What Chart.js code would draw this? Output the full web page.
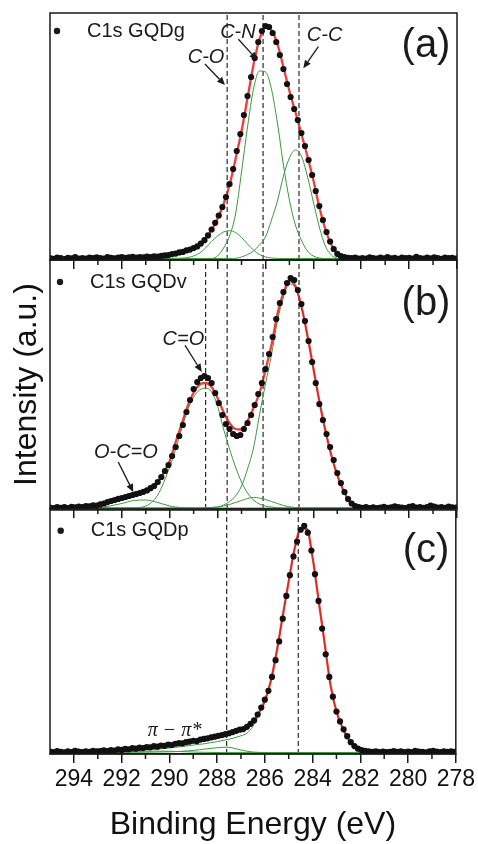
<!DOCTYPE html>
<html>
<head>
<meta charset="utf-8">
<script src="https://cdn.jsdelivr.net/npm/chart.js@4.4.0/dist/chart.umd.min.js"></script>
<style>
  html, body { margin: 0; padding: 0; background: #fff; }
  #wrap { position: relative; width: 478px; height: 844px; overflow: hidden; background: #fff; }
  #wrap canvas { position: absolute; left: 0; }
</style>
</head>
<body>
<div id="wrap">
  <canvas id="chartC" width="478" height="344" style="top:500px"></canvas>
  <canvas id="chartB" width="478" height="272" style="top:250px"></canvas>
  <canvas id="chartA" width="478" height="272" style="top:0px"></canvas>
</div>
<script>
// measured points (binding energy, eV) shared by the three spectra
const energyEv = [
  295.00, 294.85, 294.70, 294.55, 294.40, 294.25, 294.10, 293.95, 293.80, 293.65,
  293.50, 293.35, 293.20, 293.05, 292.90, 292.75, 292.60, 292.45, 292.30, 292.15,
  292.00, 291.85, 291.70, 291.55, 291.40, 291.25, 291.10, 290.95, 290.80, 290.65,
  290.50, 290.35, 290.20, 290.05, 289.90, 289.75, 289.60, 289.45, 289.30, 289.15,
  289.00, 288.85, 288.70, 288.55, 288.40, 288.25, 288.10, 287.95, 287.80, 287.65,
  287.50, 287.35, 287.20, 287.05, 286.90, 286.75, 286.60, 286.45, 286.30, 286.15,
  286.00, 285.85, 285.70, 285.55, 285.40, 285.25, 285.10, 284.95, 284.80, 284.65,
  284.50, 284.35, 284.20, 284.05, 283.90, 283.75, 283.60, 283.45, 283.30, 283.15,
  283.00, 282.85, 282.70, 282.55, 282.40, 282.25, 282.10, 281.95, 281.80, 281.65,
  281.50, 281.35, 281.20, 281.05, 280.90, 280.75, 280.60, 280.45, 280.30, 280.15,
  280.00, 279.85, 279.70, 279.55, 279.40, 279.25, 279.10, 278.95, 278.80, 278.65,
  278.50, 278.35, 278.20, 278.05
];

// C1s GQDg data (a.u.)
const gqdgCounts = [
  2.0, 1.2, 2.5, 1.8, 1.0, 2.2, 1.6, 2.8, 1.5, 2.0,
  1.3, 2.4, 1.8, 2.6, 1.9, 1.4, 2.9, 2.1, 1.7, 2.5,
  3.0, 2.2, 2.7, 3.2, 2.4, 2.9, 2.6, 3.3, 2.9, 3.6,
  3.4, 4.2, 4.6, 5.0, 5.9, 6.4, 7.6, 8.1, 9.6, 10.4,
  12.0, 13.6, 16.4, 19.8, 24.6, 30.5, 37.2, 44.5, 53, 63,
  76, 91, 109, 126, 145, 164, 183, 202, 218, 229,
  234, 233, 227, 218, 205, 191, 176, 163, 151, 140,
  127, 114, 100, 85, 69, 54, 40, 28, 18.5, 11,
  6.2, 3.8, 2.9, 2.2, 1.8, 2.4, 1.5, 2.0, 1.3, 2.6,
  1.9, 1.4, 2.3, 1.7, 2.8, 1.6, 2.1, 1.2, 2.5, 1.8,
  2.2, 1.5, 3.2, 2.0, 1.4, 2.3, 1.7, 2.6, 1.9, 1.2,
  2.4, 1.8, 2.1, 1.5
];

// C1s GQDv data (a.u.)
const gqdvCounts = [
  1.5, 0.8, 2.0, 1.2, 1.8, 0.9, 2.2, 1.6, 2.5, 2.0,
  3.0, 2.6, 3.6, 3.4, 4.6, 5.5, 6.9, 8.0, 9.0, 10.1,
  11.0, 12.0, 13.0, 14.0, 15.0, 16.0, 17.2, 18.6, 20.8, 23.0,
  27, 32, 38, 44, 53, 62, 73, 84, 97, 109,
  120, 127, 131, 133, 131, 126, 116, 106, 94, 85,
  80, 75, 73, 74, 80, 86, 94, 104, 115, 126,
  140, 155, 172, 190, 206, 217, 226, 231, 229, 219,
  205, 188, 168, 147, 126, 105, 89, 75, 62, 49,
  36, 26, 17, 10, 5.5, 2.8, 1.8, 1.2, 2.0, 1.0,
  1.7, 0.8, 1.4, 2.1, 1.1, 1.6, 2.6, 1.9, 1.3, 1.0,
  2.2, 2.8, 1.5, 1.8, 1.1, 2.0, 3.5, 2.4, 1.4, 1.9,
  1.2, 2.3, 1.7, 1.3
];

// C1s GQDp data (a.u.)
const gqdpCounts = [
  2.5, 1.8, 2.9, 2.2, 1.6, 2.7, 2.0, 3.1, 2.4, 1.9,
  2.8, 2.3, 3.3, 2.6, 3.0, 3.6, 2.9, 4.0, 3.5, 4.6,
  4.1, 5.2, 4.8, 5.9, 5.4, 6.5, 6.0, 7.1, 6.8, 7.9,
  7.4, 8.6, 8.3, 9.5, 9.1, 10.4, 11.0, 10.8, 12.0, 12.6,
  13.4, 13.1, 14.6, 15.3, 15.9, 16.8, 17.5, 18.4, 19.2, 20.1,
  21.0, 22.2, 23.5, 24.6, 25.2, 27.5, 30.5, 34, 40, 47,
  55, 64, 78, 95, 114, 137, 160, 181, 200, 215,
  227, 231, 224, 206, 182, 155, 127, 101, 78, 58,
  43, 33, 25, 18, 12, 8, 5.4, 4.0, 3.2, 2.6,
  2.2, 2.8, 2.0, 2.5, 1.8, 2.3, 2.9, 2.1, 2.6, 1.9,
  2.4, 2.0, 3.1, 2.5, 2.2, 1.7, 2.6, 3.3, 2.4, 2.0,
  2.8, 2.3, 2.6, 2.1
];

// energies for the fitted envelopes and components
const fitEnergyEv = [
  295, 294, 293, 292, 291.5, 291, 290.5, 290, 289.75, 289.5,
  289.25, 289, 288.75, 288.5, 288.25, 288, 287.75, 287.5, 287.25, 287,
  286.75, 286.5, 286.25, 286, 285.75, 285.5, 285.25, 285, 284.75, 284.5,
  284.25, 284, 283.75, 283.5, 283.25, 283, 282.75, 282.5, 282.25, 282,
  281.5, 281, 280, 279, 278
];

const gqdgFit = [
  1.5, 1.5, 1.6, 1.8, 2.2, 2.6, 3.3, 4.5, 6, 7.8,
  9.5, 11.5, 15, 21.5, 30, 41.5, 56, 75, 101, 129,
  162, 195, 221, 232.5, 230, 216, 193, 169, 148, 126,
  104, 80, 53, 31, 15.5, 6.5, 2.5, 1.6, 1.5, 1.5,
  1.5, 1.5, 1.5, 1.5, 1.5
];
const gqdgCO = [
  1.5, 1.5, 1.5, 1.5, 1.5, 1.5, 1.5, 1.6, 1.7, 1.8,
  2.5, 4, 7, 12, 18.5, 24, 28, 29.3, 27.5, 22.5,
  16, 10, 5.5, 3, 2, 1.6, 1.5, 1.5, 1.5, 1.5,
  1.5, 1.5, 1.5, 1.5, 1.5, 1.5, 1.5, 1.5, 1.5, 1.5,
  1.5, 1.5, 1.5, 1.5, 1.5
];
const gqdgCN = [
  1.5, 1.5, 1.5, 1.5, 1.5, 1.5, 1.5, 1.5, 1.5, 1.5,
  1.5, 1.5, 1.5, 1.5, 1.5, 4, 12, 24, 46, 88,
  133, 171, 189, 188, 171, 137, 95, 60, 35, 20,
  9, 4, 2, 1.5, 1.5, 1.5, 1.5, 1.5, 1.5, 1.5,
  1.5, 1.5, 1.5, 1.5, 1.5
];
const gqdgCC = [
  1.5, 1.5, 1.5, 1.5, 1.5, 1.5, 1.5, 1.5, 1.5, 1.5,
  1.5, 1.5, 1.5, 1.5, 1.5, 1.5, 1.5, 1.5, 1.7, 3,
  5.5, 9, 15, 23, 40, 59, 84, 102, 110, 104,
  84, 58, 33, 14, 5, 2, 1.5, 1.5, 1.5, 1.5,
  1.5, 1.5, 1.5, 1.5, 1.5
];

const gqdvFit = [
  1, 1.2, 3.2, 10.5, 13.5, 17, 27, 48, 67, 85,
  103, 116.5, 124.5, 126, 122, 111, 97, 86, 80, 79.5,
  88, 101, 116, 139, 164, 195, 216, 228, 223, 203,
  174, 141, 108, 79, 54, 34, 19, 8, 2.5, 1.2,
  1, 1, 1, 1, 1
];
const gqdvOCO = [
  1, 1.1, 1.5, 5.5, 8.5, 9, 6.5, 3, 2, 1.4,
  1, 1, 1, 1, 1, 1, 1, 1, 1, 1,
  1, 1, 1, 1, 1, 1, 1, 1, 1, 1,
  1, 1, 1, 1, 1, 1, 1, 1, 1, 1,
  1, 1, 1, 1, 1
];
const gqdvCO = [
  1, 1, 1, 1, 1.2, 3, 14, 42, 60, 80,
  99, 112, 119, 121, 117, 103, 80, 60, 42, 27,
  16, 9, 5, 3, 2, 1.4, 1, 1, 1, 1,
  1, 1, 1, 1, 1, 1, 1, 1, 1, 1,
  1, 1, 1, 1, 1
];
const gqdvCN = [
  1, 1, 1, 1, 1, 1, 1, 1, 1, 1,
  1, 1, 1, 1.3, 1.6, 2, 3, 4.5, 6.5, 8.5,
  10.5, 11.5, 11, 9.5, 7.5, 5.5, 3.5, 2.2, 1.5, 1,
  1, 1, 1, 1, 1, 1, 1, 1, 1, 1,
  1, 1, 1, 1, 1
];
const gqdvCC = [
  1, 1, 1, 1, 1, 1, 1, 1, 1, 1,
  1, 1, 1, 1.2, 1.5, 2, 4, 7.5, 13, 23,
  40, 61, 94, 125, 154, 188, 212, 225, 221, 202,
  173, 140, 107, 78, 53, 33, 18.5, 7.5, 2.2, 1,
  1, 1, 1, 1, 1
];

const gqdpFit = [
  1.8, 1.9, 2.1, 2.8, 4, 5.5, 6.8, 8.4, 9.5, 10.4,
  11.2, 12, 13.2, 14.4, 15.6, 16.8, 18.2, 19.6, 21.8, 24.5,
  27, 32, 42, 54, 74, 104, 140, 175, 208, 228,
  228, 199, 156, 113, 70, 43, 27, 15, 7.5, 4,
  2.5, 2.2, 2, 2, 2
];
const gqdpMain = [
  1.8, 1.9, 2.1, 2.6, 3.2, 4, 5, 6, 6.8, 7.5,
  8.2, 9, 9.8, 10.5, 11.5, 12.5, 13.8, 15, 16.5, 18.5,
  21, 28, 40, 53, 74, 104, 140, 175, 208, 228,
  228, 199, 156, 113, 70, 43, 27, 15, 7.5, 4,
  2.5, 2.2, 2, 2, 2
];
const gqdpCO = [
  1.5, 1.5, 1.5, 1.6, 1.7, 1.8, 2, 2.2, 2.4, 2.7,
  3.1, 3.6, 4.3, 5, 5.7, 6.3, 6.8, 6.8, 5.5, 4,
  2.8, 2, 1.6, 1.5, 1.5, 1.5, 1.5, 1.5, 1.5, 1.5,
  1.5, 1.5, 1.5, 1.5, 1.5, 1.5, 1.5, 1.5, 1.5, 1.5,
  1.5, 1.5, 1.5, 1.5, 1.5
];
const gqdpPi = [
  1.4, 1.5, 1.8, 2.3, 2.6, 2.8, 2.9, 2.8, 2.6, 2.4,
  2.2, 2, 1.8, 1.7, 1.6, 1.5, 1.4, 1.4, 1.4, 1.4,
  1.4, 1.4, 1.4, 1.4, 1.4, 1.4, 1.4, 1.4, 1.4, 1.4,
  1.4, 1.4, 1.4, 1.4, 1.4, 1.4, 1.4, 1.4, 1.4, 1.4,
  1.4, 1.4, 1.4, 1.4, 1.4
];

// axis ticks and dashed reference energies
const xTickValues = [294, 292, 290, 288, 286, 284, 282, 280, 278];
const xMinorValues = [293, 291, 289, 287, 285, 283, 281, 279];
const markersGqdg = [287.6, 286.1, 284.6];
const markersGqdv = [288.5, 287.6, 286.1, 284.6];
const markersGqdp = [287.6, 284.6];

const FONT = '"Liberation Sans", Arial, Helvetica, sans-serif';
const RED = 'rgba(238, 16, 16, 0.82)';
const GREEN = '#3a9a3a';
const INK = '#1a1a1a';

function pts(xs, ys) {
  return xs.map((x, i) => ({ x: x, y: ys[i] }));
}

function drawArrow(ctx, x1, y1, x2, y2) {
  const a = Math.atan2(y2 - y1, x2 - x1);
  const c = Math.cos(a), s = Math.sin(a);
  const head = 8, half = 3.5;
  ctx.beginPath();
  ctx.moveTo(x1, y1);
  ctx.lineTo(x2 - head * c, y2 - head * s);
  ctx.stroke();
  ctx.beginPath();
  ctx.moveTo(x2, y2);
  ctx.lineTo(x2 - head * c + half * s, y2 - head * s - half * c);
  ctx.lineTo(x2 - head * c - half * s, y2 - head * s + half * c);
  ctx.closePath();
  ctx.fill();
}

// frame, minor ticks, legend, panel letter and labels
function makeDecor(d) {
  return {
    id: 'panelDecor',
    afterDraw(chart) {
      const { ctx, chartArea: area, scales } = chart;
      const x = scales.x, y = scales.y;
      ctx.save();
      ctx.strokeStyle = INK;
      ctx.fillStyle = INK;
      ctx.lineWidth = 1.5;
      ctx.beginPath();
      xMinorValues.forEach(v => {
        const px = x.getPixelForValue(v);
        ctx.moveTo(px, area.bottom);
        ctx.lineTo(px, area.bottom + 5);
      });
      ctx.stroke();
      ctx.strokeRect(area.left, area.top, area.right - area.left, area.bottom - area.top);

      // legend
      ctx.beginPath();
      ctx.arc(area.left + d.legendDx, area.top + d.legendDy, 3.2, 0, Math.PI * 2);
      ctx.fill();
      ctx.textBaseline = 'middle';
      ctx.textAlign = 'left';
      ctx.font = '20px ' + FONT;
      ctx.fillText(d.legend, area.left + d.legendDx + 30, area.top + d.legendDy);

      ctx.textAlign = 'center';
      ctx.font = '40px ' + FONT;
      ctx.fillText(d.letter, area.left + 376, area.top + d.letterDy);

      ctx.lineWidth = 1.3;
      d.notes.forEach(n => {
        ctx.font = n.font || ('italic 20px ' + FONT);
        ctx.fillText(n.text, x.getPixelForValue(n.at[0]), y.getPixelForValue(n.at[1]));
        if (n.arrow) {
          drawArrow(ctx,
            x.getPixelForValue(n.arrow[0]), y.getPixelForValue(n.arrow[1]),
            x.getPixelForValue(n.arrow[2]), y.getPixelForValue(n.arrow[3]));
        }
      });
      ctx.restore();
    }
  };
}

function makePanel(id, p) {
  const datasets = [];
  // first dataset is drawn on top
  datasets.push({
    data: pts(energyEv, p.counts),
    showLine: false,
    pointRadius: 3.1,
    pointBackgroundColor: '#111',
    pointBorderColor: '#111',
    pointBorderWidth: 0
  });
  datasets.push({
    data: pts(fitEnergyEv, p.fit),
    borderColor: RED,
    borderWidth: 2.3,
    pointRadius: 0,
    cubicInterpolationMode: 'monotone'
  });
  p.components.forEach(c => datasets.push({
    data: pts(fitEnergyEv, c),
    borderColor: GREEN,
    borderWidth: 1,
    pointRadius: 0,
    cubicInterpolationMode: 'monotone'
  }));
  p.markers.forEach(e => datasets.push({
    data: [{ x: e, y: 0 }, { x: e, y: p.ymax }],
    borderColor: '#2a2a2a',
    borderWidth: 1.2,
    borderDash: [5, 3],
    pointRadius: 0
  }));

  return new Chart(document.getElementById(id), {
    type: 'line',
    data: { datasets: datasets },
    options: {
      responsive: false,
      animation: false,
      events: [],
      layout: { padding: p.padding },
      plugins: { legend: { display: false }, tooltip: { enabled: false } },
      scales: {
        x: {
          type: 'linear',
          min: 278,
          max: 295,
          reverse: true,
          afterBuildTicks: s => { s.ticks = xTickValues.map(v => ({ value: v })); },
          grid: {
            display: true, drawOnChartArea: false, drawTicks: true,
            tickLength: 9, tickColor: INK, tickWidth: 1.5, color: INK, lineWidth: 1.5
          },
          border: { display: true, color: INK, width: 1.5 },
          ticks: {
            display: !!p.showLabels, color: '#111', padding: 3,
            maxRotation: 0, autoSkip: false,
            font: { family: FONT, size: 23 }
          },
          title: {
            display: !!p.showLabels, text: 'Binding Energy (eV)', color: '#111',
            font: { family: FONT, size: 32 }, padding: { top: 9, bottom: 0 }
          }
        },
        y: {
          min: 0,
          max: p.ymax,
          display: !!p.yTitle,
          grid: { display: false, drawTicks: false },
          border: { display: false },
          ticks: { display: false },
          title: {
            display: !!p.yTitle, text: 'Intensity (a.u.)', color: '#111',
            font: { family: FONT, size: 32 }, padding: { top: 4, bottom: 4 }
          }
        }
      }
    },
    plugins: [makeDecor(p.decor)]
  });
}

makePanel('chartA', {
  counts: gqdgCounts,
  fit: gqdgFit,
  components: [gqdgCO, gqdgCN, gqdgCC],
  markers: markersGqdg,
  ymax: 247,
  padding: { left: 50, right: 21, top: 13, bottom: 3 },
  decor: {
    legend: 'C1s GQDg', legendDx: 7, legendDy: 18, letter: '(a)', letterDy: 33,
    notes: [
      { text: 'C-O', at: [288.48, 202.5], arrow: [288.53, 196, 287.69, 175] },
      { text: 'C-N', at: [287.15, 227.5], arrow: [287.13, 220.7, 286.34, 200] },
      { text: 'C-C', at: [283.53, 224.5], arrow: [283.79, 213.3, 284.42, 191.7] }
    ]
  }
});

makePanel('chartB', {
  counts: gqdvCounts,
  fit: gqdvFit,
  components: [gqdvOCO, gqdvCO, gqdvCN, gqdvCC],
  markers: markersGqdv,
  ymax: 249,
  yTitle: true,
  padding: { left: 3.6, right: 21, top: 10, bottom: 4 },
  decor: {
    legend: 'C1s GQDv', legendDx: 10, legendDy: 22, letter: '(b)', letterDy: 43.5,
    notes: [
      { text: 'C=O', at: [289.43, 169.5], arrow: [289.36, 163.7, 288.66, 137] },
      { text: 'O-C=O', at: [291.83, 56.5], arrow: [292.15, 47, 291.52, 17] }
    ]
  }
});

makePanel('chartC', {
  counts: gqdpCounts,
  fit: gqdpFit,
  components: [gqdpPi, gqdpCO, gqdpMain],
  markers: markersGqdp,
  ymax: 247,
  showLabels: true,
  padding: { left: 50, right: 21, top: 10, bottom: 0 },
  decor: {
    legend: 'C1s GQDp', legendDx: 10.7, legendDy: 20.7, letter: '(c)', letterDy: 41,
    notes: [
      { text: 'π − π*', at: [289.78, 24], font: 'italic 20px "Liberation Serif", "Times New Roman", serif' }
    ]
  }
});
</script>
</body>
</html>
